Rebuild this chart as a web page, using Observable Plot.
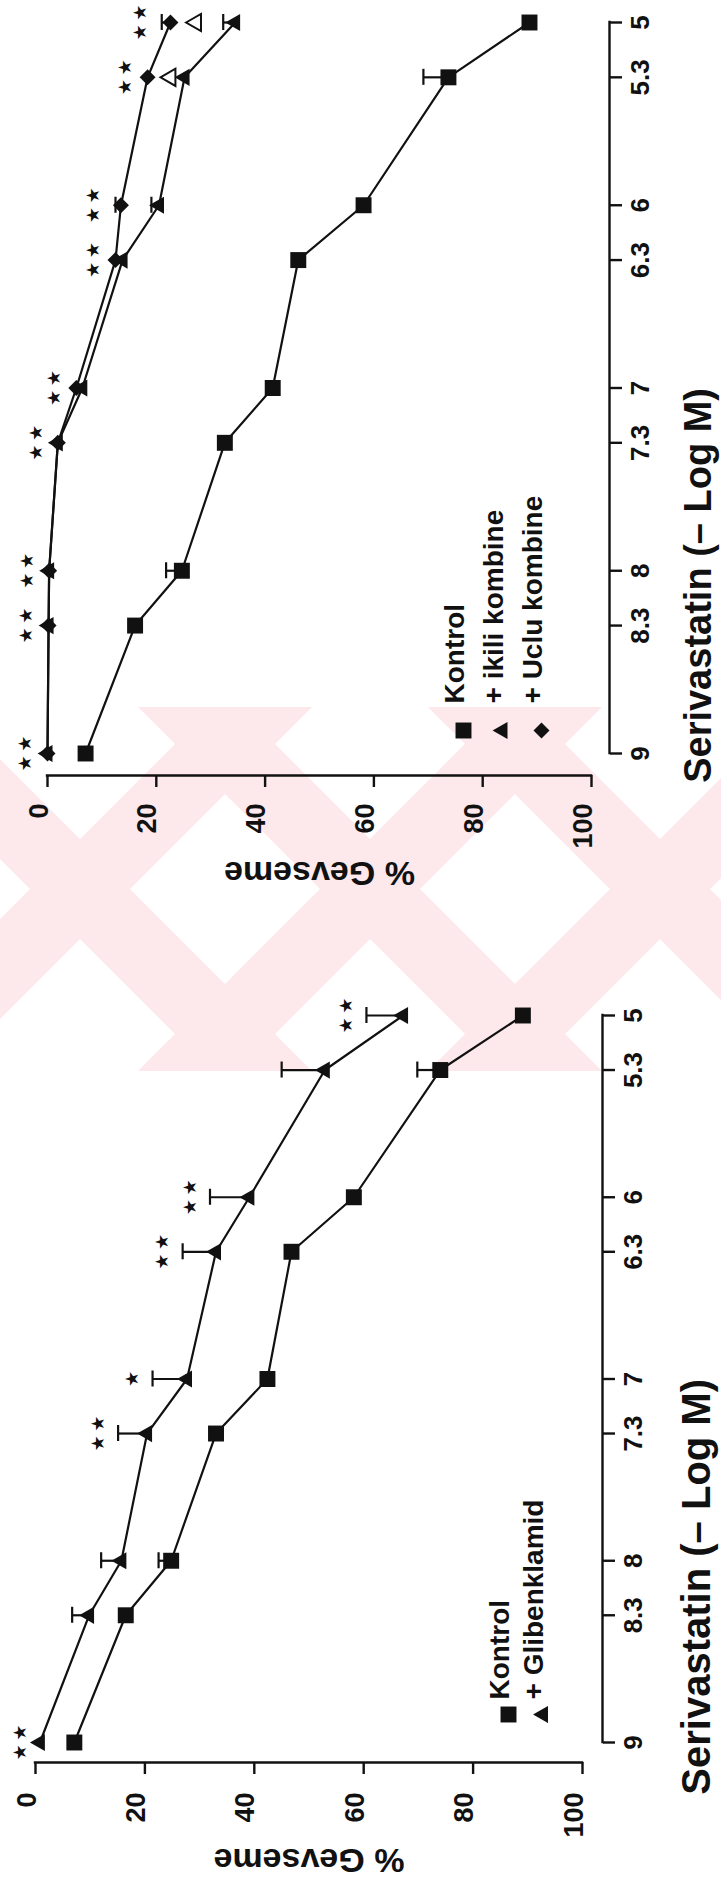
<!DOCTYPE html>
<html>
<head>
<meta charset="utf-8">
<script src="https://cdn.jsdelivr.net/npm/d3@7"></script>
<script src="https://cdn.jsdelivr.net/npm/@observablehq/plot@0.6"></script>
<style>
  html, body { margin: 0; padding: 0; background: #fff; }
  #page { position: relative; width: 721px; height: 1884px; overflow: hidden; }
  #wm { position: absolute; left: 0; top: 0; }
  .panel { position: absolute; left: 0; }
</style>
</head>
<body>
<div id="page">
  <svg id="wm" width="721" height="1884"></svg>
  <div id="top" class="panel" style="top:0px"></div>
  <div id="bottom" class="panel" style="top:940px"></div>
</div>
<script>
// ---------- data ----------
const conc = [9, 8.3, 8, 7.3, 7, 6.3, 6, 5.3, 5];          // Serivastatin (-log M)
const pctTicks = [0, 20, 40, 60, 80, 100];                 // % Gevseme ticks
const concLabel = "Serivastatin (– Log M)";
const pctLabel = "% Gevseme";

// top panel
const topKontrol    = [7.0, 16.1, 24.7, 32.6, 41.4, 46.1, 58.1, 73.7, 88.6];
const topKontrolErr = [0, 0, 2.9, 0, 0, 0, 0, 4.6, 0];
const topIkili      = [0, 0.2, 0.3, 1.9, 6.4, 13.8, 20.5, 25.2, 34.5];
const topIkiliErr   = [0, 0, 0, 0, 0, 0, 1.4, 0, 2.2];
const topUclu       = [0, 0.2, 0.3, 1.9, 5.3, 12.5, 13.5, 18.4, 22.6];
const topUcluErr    = [0, 0, 0, 0, 0, 0, 1.0, 0, 1.6];
const topOpenConc   = [5.3, 5];
const topOpen       = [22.6, 27.3];
const topStars      = ["★★", "★★", "★★", "★★", "★★", "★★", "★★", "★★", "★★"];
const topLegend     = ["Kontrol", "+ ikili kombine", "+ Uclu kombine"];

// bottom panel
const botKontrol    = [7.1, 16.5, 24.8, 33.0, 42.4, 46.8, 58.2, 74.0, 89.1];
const botKontrolErr = [0, 0, 2.3, 0, 0, 0, 0, 4.2, 0];
const botGlib       = [0.8, 9.8, 15.7, 20.4, 27.7, 33.0, 39.1, 52.9, 67.2];
const botGlibErr    = [0, 3.1, 3.7, 5.3, 6.3, 6.1, 7.2, 7.9, 6.7];
const botStars      = ["★★", "", "", "★★", "★", "★★", "★★", "", "★★"];
const botLegend     = ["Kontrol", "+ Glibenklamid"];

// ---------- style ----------
const ink = "#111";
const SQ = {symbol: "square", r: 9};
const TR = {symbol: "triangle", r: 6.4};
const DI = {symbol: "diamond2", r: 7.2};

function makePanel(cfg) {
  const marks = [];
  const xMin = pctTicks[0], xMax = pctTicks[pctTicks.length - 1];
  const cLo = conc[0], cHi = conc[conc.length - 1];
  const tick = 12;

  // axis lines (range frame)
  marks.push(Plot.ruleX([xMax], {x: d => d, y1: () => cLo, y2: () => cHi, dx: cfg.insetRight,
    stroke: ink, strokeWidth: 2.4, strokeLinecap: "square"}));
  marks.push(Plot.ruleY([cLo], {y: d => d, x1: () => xMin, x2: () => xMax, dy: cfg.insetBottom,
    stroke: ink, strokeWidth: 2.4, strokeLinecap: "square"}));

  // ticks
  marks.push(Plot.axisX({ticks: pctTicks, anchor: "bottom", tickSize: tick, tickFormat: () => "",
    strokeWidth: 2.4, label: null, color: ink}));
  marks.push(Plot.axisY({ticks: conc, anchor: "right", tickSize: tick, tickFormat: () => "",
    strokeWidth: 2.4, label: null, color: ink}));
  // rotated tick labels
  marks.push(Plot.text(pctTicks, {x: d => d, frameAnchor: "bottom", dy: tick + cfg.xTickPad,
    text: d => String(d), rotate: -90, textAnchor: "end", fontSize: 27, fontWeight: "bold", fill: ink}));
  marks.push(Plot.text(conc, {y: d => d, frameAnchor: "right", dx: tick + 9,
    text: d => String(d), rotate: -90, textAnchor: "middle", lineAnchor: "top",
    fontSize: 26, fontWeight: "bold", fill: ink}));

  // lines + error bars
  cfg.series.forEach(s => {
    const rows = conc.map((c, i) => ({c, v: s.values[i], e: s.err[i]}));
    marks.push(Plot.line(rows, {x: "v", y: "c", stroke: ink, strokeWidth: 2.2}));
    const er = rows.filter(d => d.e > 0);
    marks.push(Plot.ruleY(er, {y: "c", x1: d => d.v - d.e, x2: "v", stroke: ink, strokeWidth: 2.2}));
    marks.push(Plot.ruleX(er, {x: d => d.v - d.e, y1: "c", y2: "c", insetTop: -8, insetBottom: -8,
      stroke: ink, strokeWidth: 2.2}));
  });
  // symbols
  cfg.series.forEach(s => {
    const rows = conc.map((c, i) => ({c, v: s.values[i]}));
    marks.push(Plot.dot(rows, {x: "v", y: "c", symbol: s.sym.symbol, r: s.sym.r, fill: ink, rotate: -90}));
  });
  if (cfg.open) {
    const rows = cfg.open.conc.map((c, i) => ({c, v: cfg.open.values[i]}));
    marks.push(Plot.dot(rows, {x: "v", y: "c", symbol: "triangle", r: 6.4, fill: "white",
      stroke: ink, strokeWidth: 2, rotate: -90}));
  }
  // significance stars
  const ref = cfg.starRef;
  const starRows = conc.map((c, i) => ({c, x: ref.values[i] - ref.err[i], s: cfg.stars[i]})).filter(d => d.s);
  marks.push(Plot.text(starRows, {x: "x", y: "c", text: d => [...d.s].join("\u2009"), dx: cfg.starDx,
    rotate: -90, fontSize: 18, fontFamily: "DejaVu Sans", fill: ink}));

  // axis titles
  marks.push(Plot.text([pctLabel], {x: () => (xMin + xMax) / 2, frameAnchor: "bottom", dy: cfg.pctLabelDy,
    text: d => d, rotate: 180, fontSize: 34, fontWeight: "bold", fill: ink}));
  marks.push(Plot.text([concLabel], {y: () => (cLo + cHi) / 2, frameAnchor: "right", dx: cfg.concLabelDx,
    text: d => d, rotate: -90, lineAnchor: "top", fontSize: cfg.concLabelSize, fontWeight: "bold", fill: ink}));

  // legend
  cfg.legend.forEach((lab, i) => {
    const s = cfg.legendSymbols[i];
    const dx = cfg.legendDx + i * cfg.legendStep;
    marks.push(Plot.dot([lab], {frameAnchor: "bottom-right", dx, dy: cfg.legendSymDy,
      symbol: s.symbol, r: s.r, fill: ink, rotate: -90}));
    marks.push(Plot.text([lab], {frameAnchor: "bottom-right", dx, dy: cfg.legendTextDy, text: d => d,
      rotate: -90, textAnchor: "start", fontSize: 28, fontWeight: "bold", fill: ink}));
  });

  return Plot.plot({
    width: 721,
    height: cfg.height,
    marginTop: cfg.marginTop,
    marginRight: cfg.marginRight,
    marginBottom: cfg.marginBottom,
    marginLeft: cfg.marginLeft,
    x: {domain: [xMin, xMax], insetRight: cfg.insetRight},
    y: {domain: [cLo, cHi], insetBottom: cfg.insetBottom},
    style: {background: "transparent", fontFamily: "'Liberation Sans', Arial, sans-serif", color: ink, overflow: "visible"},
    marks
  });
}

const topPlot = makePanel({
  height: 940, marginTop: 22, marginBottom: 165, marginLeft: 47, marginRight: 112,
  insetRight: 18, insetBottom: 22, xTickPad: 16, pctLabelDy: 86, concLabelDx: 75, concLabelSize: 38,
  series: [
    {values: topKontrol, err: topKontrolErr, sym: SQ},
    {values: topIkili, err: topIkiliErr, sym: TR},
    {values: topUclu, err: topUcluErr, sym: DI}
  ],
  open: {conc: topOpenConc, values: topOpen},
  stars: topStars, starRef: {values: topUclu, err: topUcluErr}, starDx: -22,
  legend: topLegend, legendSymbols: [SQ, TR, DI],
  legendDx: -146, legendStep: 39, legendSymDy: -45, legendTextDy: -72
});
document.getElementById("top").appendChild(topPlot);

const botPlot = makePanel({
  height: 944, marginTop: 75, marginBottom: 122, marginLeft: 35, marginRight: 119,
  insetRight: 20, insetBottom: 20, xTickPad: 18, pctLabelDy: 86, concLabelDx: 79, concLabelSize: 40,
  series: [
    {values: botKontrol, err: botKontrolErr, sym: SQ},
    {values: botGlib, err: botGlibErr, sym: TR}
  ],
  stars: botStars, starRef: {values: botGlib, err: botGlibErr}, starDx: -20,
  legend: botLegend, legendSymbols: [SQ, TR],
  legendDx: -94, legendStep: 34.5, legendSymDy: -48, legendTextDy: -63
});
document.getElementById("bottom").appendChild(botPlot);

// ---------- faint background watermark (decoration) ----------
(function () {
  const svg = d3.select("#wm");
  const y0 = 707, y1 = 1071, ym = (y0 + y1) / 2, w = 100;
  svg.append("defs").append("clipPath").attr("id", "wmclip")
    .append("rect").attr("x", 0).attr("y", y0).attr("width", 721).attr("height", y1 - y0);
  const g = svg.append("g").attr("clip-path", "url(#wmclip)").attr("fill", "#fde8ec");
  [80, 370, 660].forEach(cx => {
    [1, -1].forEach(s => {
      const a = cx + s * (y0 - ym), b = cx + s * (y1 - ym);
      g.append("polygon").attr("points",
        `${a - w / 2},${y0} ${a + w / 2},${y0} ${b + w / 2},${y1} ${b - w / 2},${y1}`);
    });
  });
})();
</script>
</body>
</html>
